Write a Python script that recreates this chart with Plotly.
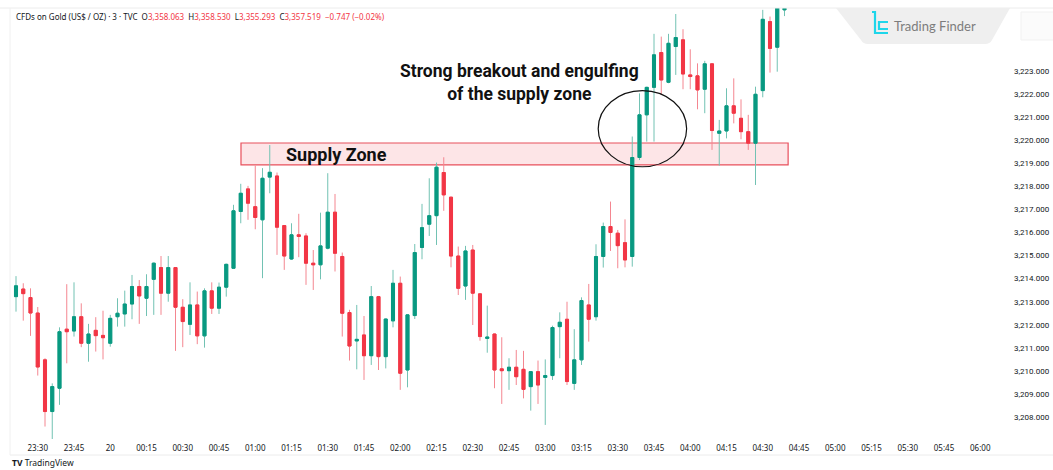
import pandas as pd
import plotly.graph_objects as go

# ---------------- data (3-minute candles, 23:21 -> 04:39) ----------------
opens = [3213.22, 3213.55, 3213.18, 3212.51, 3210.48, 3208.24, 3209.25, 3211.81, 3211.73, 3212.35,
         3211.20, 3211.76, 3211.54, 3211.20, 3212.35, 3212.47, 3212.90, 3213.66, 3213.15, 3213.97,
         3214.48, 3213.37, 3214.48, 3212.76, 3212.02, 3212.86, 3211.52, 3213.47, 3212.72, 3213.63,
         3214.45, 3216.91, 3217.89, 3217.12, 3216.55, 3218.40, 3218.45, 3216.30, 3214.85, 3215.90,
         3215.85, 3214.67, 3214.60, 3215.32, 3216.88, 3214.96, 3212.53, 3211.30, 3211.56, 3210.66,
         3213.22, 3210.62, 3212.17, 3213.80, 3210.04, 3212.40, 3215.35, 3216.36, 3216.73, 3218.60,
         3217.53, 3214.98, 3213.68, 3215.24, 3213.34, 3211.41, 3211.60, 3210.09, 3210.01, 3210.16,
         3210.07, 3209.32, 3209.97, 3209.72, 3209.80, 3211.92, 3212.24, 3209.46, 3210.48, 3212.86,
         3212.35, 3214.96, 3216.26, 3215.97, 3215.56, 3214.96, 3219.25, 3221.10, 3222.29, 3223.80,
         3222.51, 3224.06, 3224.35, 3222.83, 3222.79, 3222.21, 3223.31, 3220.30, 3220.40, 3221.49,
         3220.95, 3220.37, 3219.87, 3222.15, 3225.14, 3224.03, 3225.65]
highs = [3214.11, 3213.80, 3213.58, 3212.77, 3210.55, 3209.46, 3211.89, 3213.76, 3213.84, 3212.93,
         3212.04, 3212.33, 3212.61, 3212.43, 3213.15, 3213.48, 3214.16, 3213.94, 3214.19, 3214.70,
         3214.98, 3214.98, 3214.50, 3213.11, 3213.84, 3213.44, 3213.58, 3213.84, 3213.83, 3214.65,
         3217.20, 3218.11, 3218.02, 3218.90, 3218.79, 3219.79, 3218.60, 3216.32, 3216.40, 3216.81,
         3215.97, 3215.24, 3216.86, 3218.57, 3217.67, 3215.13, 3212.65, 3212.86, 3212.38, 3213.68,
         3213.25, 3212.27, 3214.38, 3214.09, 3212.45, 3215.50, 3217.24, 3218.35, 3219.03, 3219.26,
         3217.55, 3215.39, 3215.42, 3215.46, 3213.36, 3212.83, 3211.62, 3211.46, 3210.55, 3210.91,
         3210.87, 3209.99, 3210.45, 3210.50, 3211.96, 3212.54, 3213.00, 3211.81, 3213.19, 3213.77,
         3215.49, 3216.43, 3217.34, 3216.11, 3216.57, 3220.16, 3222.03, 3222.32, 3224.61, 3224.49,
         3224.61, 3225.47, 3224.81, 3223.94, 3223.33, 3223.44, 3223.33, 3220.88, 3222.25, 3222.68,
         3221.77, 3221.10, 3222.32, 3225.65, 3225.36, 3226.30, 3225.80]
lows = [3212.57, 3212.18, 3211.52, 3209.80, 3207.59, 3207.01, 3208.53, 3210.33, 3211.49, 3211.03,
        3210.40, 3210.84, 3210.50, 3211.05, 3211.92, 3211.92, 3212.24, 3212.04, 3212.38, 3212.43,
        3212.43, 3213.00, 3210.87, 3211.03, 3211.56, 3211.16, 3211.01, 3212.47, 3212.47, 3213.22,
        3214.43, 3216.40, 3216.55, 3216.14, 3214.02, 3217.70, 3215.03, 3214.38, 3214.81, 3214.93,
        3213.73, 3213.51, 3213.97, 3215.27, 3214.31, 3211.49, 3210.45, 3210.07, 3209.61, 3210.26,
        3210.04, 3210.11, 3211.89, 3209.18, 3209.29, 3212.25, 3214.84, 3215.85, 3215.46, 3216.94,
        3214.49, 3213.29, 3213.08, 3211.99, 3211.31, 3210.79, 3209.25, 3208.57, 3209.18, 3209.39,
        3208.81, 3208.28, 3208.57, 3207.66, 3209.61, 3210.55, 3209.39, 3209.18, 3210.26, 3211.27,
        3212.18, 3214.48, 3215.20, 3214.45, 3214.49, 3214.52, 3219.14, 3219.94, 3219.94, 3221.96,
        3222.47, 3222.83, 3222.21, 3222.21, 3221.34, 3221.17, 3219.58, 3218.90, 3220.08, 3220.73,
        3220.04, 3219.58, 3218.06, 3221.86, 3222.93, 3222.97, 3225.38]
closes = [3213.69, 3213.35, 3212.51, 3210.17, 3208.24, 3209.32, 3211.70, 3211.70, 3212.35, 3211.20,
          3211.60, 3211.53, 3211.44, 3212.28, 3212.50, 3212.90, 3213.66, 3213.25, 3213.66, 3214.67,
          3213.37, 3214.48, 3212.76, 3212.14, 3212.86, 3211.52, 3213.47, 3212.72, 3213.63, 3214.62,
          3216.94, 3217.70, 3217.27, 3216.65, 3218.35, 3218.61, 3216.23, 3214.98, 3215.90, 3215.83,
          3214.67, 3214.60, 3215.42, 3216.88, 3215.10, 3212.50, 3211.08, 3211.37, 3210.66, 3213.22,
          3210.62, 3212.25, 3213.80, 3209.90, 3212.43, 3215.13, 3216.21, 3216.73, 3218.83, 3217.63,
          3214.98, 3213.58, 3215.20, 3213.37, 3211.49, 3211.47, 3210.04, 3210.01, 3210.16, 3209.75,
          3209.20, 3209.97, 3209.39, 3209.80, 3211.88, 3212.11, 3209.54, 3210.48, 3213.05, 3212.24,
          3214.96, 3216.26, 3216.00, 3215.43, 3214.81, 3219.25, 3221.10, 3222.29, 3223.70, 3222.61,
          3224.20, 3224.45, 3222.87, 3222.76, 3222.18, 3223.31, 3220.42, 3220.40, 3221.49, 3221.17,
          3220.37, 3219.87, 3221.99, 3225.24, 3223.98, 3225.90, 3225.72]
times = pd.date_range("2025-05-19 23:21", periods=len(opens), freq="3min")

tick_times = pd.date_range("2025-05-19 23:30", "2025-05-20 06:00", freq="15min")
tick_labels = ["23:30", "23:45", "20", "00:15", "00:30", "00:45", "01:00", "01:15", "01:30",
               "01:45", "02:00", "02:15", "02:30", "02:45", "03:00", "03:15", "03:30", "03:45",
               "04:00", "04:15", "04:30", "04:45", "05:00", "05:15", "05:30", "05:45", "06:00"]
price_ticks = list(range(3208, 3224))

x_range = ["2025-05-19 23:18:31", "2025-05-20 06:09:25"]
y_range = [3207.05, 3225.73]

zone_low, zone_high = 3218.93, 3219.88
zone_start, zone_end = "2025-05-20 00:54:06", "2025-05-20 04:40:30"
circle_t0, circle_t1 = "2025-05-20 03:21:55", "2025-05-20 03:58:30"
circle_p0, circle_p1 = 3218.85, 3222.15

header_text = ("CFDs on Gold (US$ / OZ) · 3 · TVC  "
               "O<span style='color:#F23645'>3,358.063</span>  "
               "H<span style='color:#F23645'>3,358.530</span>  "
               "L<span style='color:#F23645'>3,355.293</span>  "
               "C<span style='color:#F23645'>3,357.519</span>  "
               "<span style='color:#F23645'>−0.747 (−0.02%)</span>")

UP, DOWN = "#089981", "#F23645"
UP_WICK, DOWN_WICK = "#72c2b3", "#f48690"

# ---------------- figure ----------------
W, H = 1053, 470
L, R, T, B = 10, 1003, 8, 439  # plot area in pixels


def px(x):
    return (x - L) / (R - L)


def py(y):
    return (B - y) / (B - T)


fig = go.Figure()

# wicks
fig.add_trace(go.Candlestick(
    x=times, open=opens, high=highs, low=lows, close=closes,
    increasing=dict(line=dict(color=UP_WICK, width=1), fillcolor=UP_WICK),
    decreasing=dict(line=dict(color=DOWN_WICK, width=1), fillcolor=DOWN_WICK),
    whiskerwidth=0, showlegend=False, hoverinfo="skip"))
# bodies
body_hi = [max(o, c) for o, c in zip(opens, closes)]
body_lo = [min(o, c) for o, c in zip(opens, closes)]
fig.add_trace(go.Candlestick(
    x=times, open=opens, high=body_hi, low=body_lo, close=closes,
    increasing=dict(line=dict(color=UP, width=1), fillcolor=UP),
    decreasing=dict(line=dict(color=DOWN, width=1), fillcolor=DOWN),
    whiskerwidth=0, showlegend=False))

# supply zone
fig.add_shape(type="rect", xref="x", yref="y", x0=zone_start, x1=zone_end,
              y0=zone_low, y1=zone_high, fillcolor="rgba(242,54,69,0.13)",
              line=dict(color="#E8505C", width=1.2), layer="below")
# ellipse
fig.add_shape(type="circle", xref="x", yref="y", x0=circle_t0, x1=circle_t1,
              y0=circle_p0, y1=circle_p1, line=dict(color="#111111", width=1.2),
              layer="above")

fig.add_annotation(x="2025-05-20 01:12:00", y=3219.40, xref="x", yref="y",
                   text="Supply Zone", showarrow=False, xanchor="left", yanchor="middle",
                   font=dict(family="Roboto", size=18, color="#111111", weight="bold"))
fig.add_annotation(x="2025-05-20 02:49:12", y=3222.52, xref="x", yref="y",
                   text="Strong breakout and engulfing<br>of the supply zone", showarrow=False,
                   xanchor="center", yanchor="middle", align="center",
                   font=dict(family="Roboto", size=17.5, color="#111111", weight="bold"))

# header
fig.add_annotation(x=px(14), y=py(16), xref="paper", yref="paper", text=header_text,
                   showarrow=False, xanchor="left", yanchor="middle",
                   font=dict(family="Noto Sans", size=8, color="#131722"))

# TradingView footer
fig.add_annotation(x=px(10), y=py(463), xref="paper", yref="paper",
                   text="<b>TV</b> TradingView", showarrow=False, xanchor="left",
                   yanchor="middle", font=dict(family="Noto Sans", size=8.5, color="#131722"))

# frame lines
fig.add_shape(type="line", xref="paper", yref="paper", x0=px(0), x1=px(W), y0=py(8), y1=py(8),
              line=dict(color="#ececec", width=1))
fig.add_shape(type="line", xref="paper", yref="paper", x0=px(10), x1=px(W), y0=py(455), y1=py(455),
              line=dict(color="#ececec", width=1))
fig.add_shape(type="line", xref="paper", yref="paper", x0=px(10), x1=px(10), y0=py(8), y1=py(455),
              line=dict(color="#f0f0f0", width=1))

# Trading Finder watermark
fig.add_shape(type="path", xref="paper", yref="paper", layer="above",
              path=(f"M {px(836)},{py(8)} L {px(1010)},{py(8)} L {px(992)},{py(40)} "
                    f"Q {px(990)},{py(44)} {px(985)},{py(44)} L {px(868)},{py(44)} "
                    f"Q {px(863)},{py(44)} {px(861)},{py(40)} Z"),
              fillcolor="#efefef", line=dict(width=0))
fig.add_shape(type="path", xref="paper", yref="paper", layer="above",
              path=(f"M {px(872)},{py(12)} L {px(875)},{py(12)} L {px(875)},{py(33)} "
                    f"L {px(888)},{py(33)}"),
              line=dict(color="#1ed6ea", width=2.2))
fig.add_shape(type="path", xref="paper", yref="paper", layer="above",
              path=(f"M {px(888)},{py(22)} L {px(879)},{py(22)} L {px(879)},{py(29)} "
                    f"L {px(888)},{py(29)}"),
              line=dict(color="#1ed6ea", width=2.2))
fig.add_annotation(x=px(892), y=py(26), xref="paper", yref="paper", text="Trading Finder",
                   showarrow=False, xanchor="left", yanchor="middle",
                   font=dict(family="Lato", size=13, color="#7d7d7d"))
fig.add_shape(type="rect", xref="paper", yref="paper", layer="above",
              x0=px(1021), x1=px(1060), y0=py(40), y1=py(12),
              fillcolor="#fbfbfb", line=dict(color="#f1f1f1", width=1))

fig.update_layout(
    width=W, height=H,
    margin=dict(l=L, r=W - R, t=T, b=H - B, pad=0, autoexpand=False),
    paper_bgcolor="white", plot_bgcolor="white",
    boxgap=0.4,
    showlegend=False,
    xaxis=dict(range=x_range, type="date", rangeslider=dict(visible=False),
               tickvals=tick_times, ticktext=tick_labels, showgrid=False, zeroline=False,
               showline=False, ticks="", ticklabelstandoff=3, automargin=False,
               tickfont=dict(family="Noto Sans", size=8, color="#131722")),
    yaxis=dict(range=y_range, side="right", tickvals=price_ticks, tickformat=",.3f",
               showgrid=False, zeroline=False, showline=False, ticks="",
               ticklabelstandoff=10, automargin=False,
               tickfont=dict(family="Roboto", size=8, color="#131722")),
)

fig.write_html("out.html", config={"displayModeBar": False},
               post_script="document.body.style.margin='0';document.body.style.overflow='hidden';")
